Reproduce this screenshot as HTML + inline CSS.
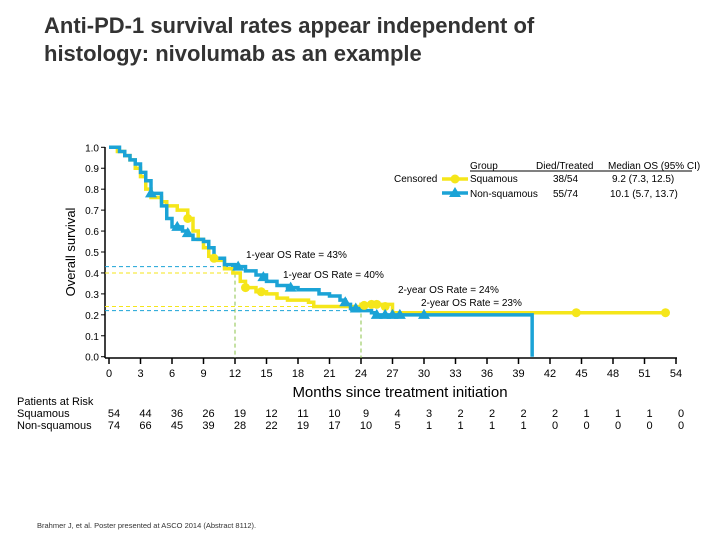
<!DOCTYPE html>
<html><head><meta charset="utf-8"><style>
body{margin:0;background:#fff;width:720px;height:540px;overflow:hidden;font-family:"Liberation Sans",sans-serif}
</style></head><body>
<svg width="720" height="540" xmlns="http://www.w3.org/2000/svg" font-family="Liberation Sans, sans-serif">
<text x="44" y="33" font-size="22" font-weight="bold" fill="#333">Anti-PD-1 survival rates appear independent of</text>
<text x="44" y="61" font-size="22" font-weight="bold" fill="#333">histology: nivolumab as an example</text>
<g id="plot"></g>
<text x="37" y="528" font-size="7.5" fill="#333">Brahmer J, et al. Poster presented at ASCO 2014 (Abstract 8112).</text>
</svg>
<script>
const xTicks=[0,3,6,9,12,15,18,21,24,27,30,33,36,39,42,45,48,51,54];
const yTicks=[0,0.1,0.2,0.3,0.4,0.5,0.6,0.7,0.8,0.9,1.0];
const sqT=[0,0.8,1.5,2,2.5,3,3.5,4,5,5.5,6.5,7.5,8,8.5,9,9.5,10,11,11.8,12.5,13,14,15,16,17,19,19.5,24,27,53];
const sqS=[1,0.98,0.96,0.94,0.9,0.86,0.8,0.76,0.74,0.72,0.7,0.66,0.6,0.56,0.52,0.48,0.46,0.42,0.40,0.36,0.33,0.31,0.30,0.28,0.27,0.26,0.24,0.25,0.21,0.21];
const nsT=[0,1,1.5,2,2.5,3,3.5,4,5,5.5,6,7,7.5,8,9,9.5,10,11,12,13,14,15,16,17,18,20,21,22,22.5,23,24,25,25.3,40.3];
const nsS=[1,0.98,0.96,0.94,0.92,0.88,0.84,0.78,0.72,0.66,0.62,0.6,0.58,0.56,0.55,0.52,0.47,0.44,0.43,0.41,0.39,0.36,0.34,0.33,0.32,0.30,0.29,0.27,0.25,0.23,0.22,0.21,0.20,0];
const sqCensT=[7.5,10,13,14.5,24.3,25,25.5,26.3,44.5,53];
const sqCensS=[0.66,0.47,0.33,0.31,0.245,0.25,0.25,0.24,0.21,0.21];
const nsCensT=[4,6.5,7.5,12.3,14.7,17.3,22.5,23.5,25.5,26.3,27,27.7,30];
const nsCensS=[0.78,0.62,0.59,0.43,0.38,0.33,0.26,0.23,0.2,0.2,0.2,0.2,0.2];
const riskSq=[54,44,36,26,19,12,11,10,9,4,3,2,2,2,2,1,1,1,0];
const riskNs=[74,66,45,39,28,22,19,17,10,5,1,1,1,1,0,0,0,0,0];
const X=t=>109+t*10.5, Y=s=>356.7-s*209.4;
const NS="http://www.w3.org/2000/svg", g=document.getElementById('plot');
function mk(tag,attrs,txt){const e=document.createElementNS(NS,tag);for(const k in attrs)e.setAttribute(k,attrs[k]);if(txt!==undefined)e.textContent=txt;g.appendChild(e);return e;}
const YEL="#f5e61a",BLU="#1ba3d6";
let e=mk('line',{x1:105,y1:147,x2:105,y2:358,stroke:'#000','stroke-width':1.5});

e=mk('line',{x1:105,y1:358,x2:X(54)+1,y2:358,stroke:'#000','stroke-width':1.5});

yTicks.forEach(v=>{mk('line',{x1:101,y1:Y(v),x2:105,y2:Y(v),stroke:'#000'});
 e=mk('text',{x:99,y:Y(v)+4,'font-size':10,'text-anchor':'end',fill:'#000'},v.toFixed(1));
 });
xTicks.forEach((v,i)=>{mk('line',{x1:X(v),y1:358,x2:X(v),y2:364,stroke:'#000','stroke-width':1.5});
 e=mk('text',{x:X(v),y:377,'font-size':11,'text-anchor':'middle',fill:'#000'},v);
 
 e=mk('text',{x:X(v)+5,y:417,'font-size':11,'text-anchor':'middle',fill:'#000'},riskSq[i]);
 
 e=mk('text',{x:X(v)+5,y:429,'font-size':11,'text-anchor':'middle',fill:'#000'},riskNs[i]);
 });
e=mk('text',{x:-252,y:75,'font-size':13,transform:'rotate(-90)','text-anchor':'middle',fill:'#000'},'Overall survival');

e=mk('text',{x:400,y:397,'font-size':15,'text-anchor':'middle',fill:'#000'},'Months since treatment initiation');

[['Patients at Risk',405],['Squamous',417],['Non-squamous',429]].forEach(([t,y])=>{e=mk('text',{x:17,y:y,'font-size':11,fill:'#000'},t);
 });
function dash(x1,y1,x2,y2,c,n){e=mk('line',{x1,y1,x2,y2,stroke:c,'stroke-width':1,'stroke-dasharray':'4,3'});}
dash(105,Y(0.43),X(12),Y(0.43),BLU,'ref-1yr-nonsq');
dash(105,Y(0.40),X(12),Y(0.40),YEL,'ref-1yr-sq');
dash(105,Y(0.24),X(24),Y(0.24),YEL,'ref-2yr-sq');
dash(105,Y(0.22),X(24),Y(0.22),BLU,'ref-2yr-nonsq');
dash(X(12),Y(0.43),X(12),358,'#8bc34a','ref-12mo');
dash(X(24),Y(0.24),X(24),358,'#8bc34a','ref-24mo');
function step(T,S,c,n){let d=`M${X(T[0])},${Y(S[0])}`;for(let i=1;i<T.length;i++)d+=`H${X(T[i])}V${Y(S[i])}`;
 e=mk('path',{d,fill:'none',stroke:c,'stroke-width':3.5});}
step(sqT,sqS,YEL,'squamous-curve');
step(nsT,nsS,BLU,'non-squamous-curve');
sqCensT.forEach((t,i)=>{e=mk('circle',{cx:X(t),cy:Y(sqCensS[i]),r:4.5,fill:YEL});});
nsCensT.forEach((t,i)=>{const x=X(t),y=Y(nsCensS[i]);e=mk('polygon',{points:`${x-6},${y+4} ${x+6},${y+4} ${x},${y-6}`,fill:BLU});});
[['1-year OS Rate = 43%',246,258],['1-year OS Rate = 40%',283,278],['2-year OS Rate = 24%',398,293],['2-year OS Rate = 23%',421,306]].forEach(([t,x,y])=>{e=mk('text',{x,y,'font-size':10,fill:'#000'},t);});
const L=[['Group',470,169],['Died/Treated',536,169],['Median OS (95% CI)',608,169],['Censored',394,182],['Squamous',470,182],['38/54',553,182],['9.2 (7.3, 12.5)',612,182],['Non-squamous',470,197],['55/74',553,197],['10.1 (5.7, 13.7)',610,197]];
L.forEach(([t,x,y])=>{e=mk('text',{x,y,'font-size':10,fill:'#000'},t);});
mk('line',{x1:470,y1:171,x2:692,y2:171,stroke:'#000'});
mk('line',{x1:442,y1:179,x2:468,y2:179,stroke:YEL,'stroke-width':3.5});
e=mk('circle',{cx:455,cy:179,r:4.5,fill:YEL});
mk('line',{x1:442,y1:193,x2:468,y2:193,stroke:BLU,'stroke-width':3.5});
e=mk('polygon',{points:'449,197 461,197 455,187',fill:BLU});
</script>
</body></html>
